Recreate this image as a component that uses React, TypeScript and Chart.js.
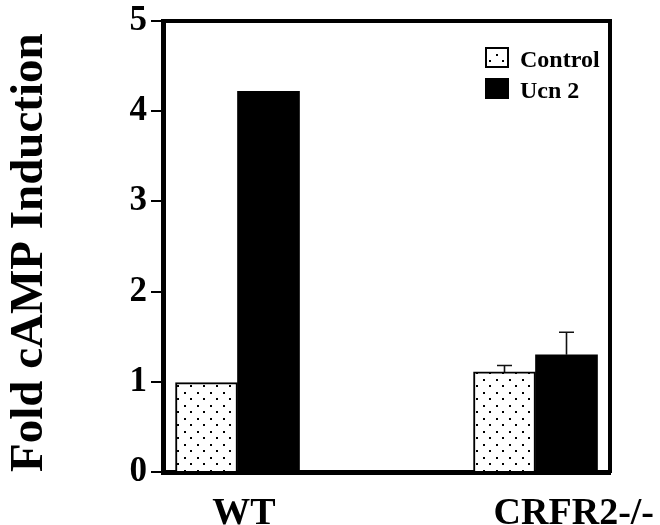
import React, { useEffect, useRef } from "react";
import { Chart, registerables } from "chart.js";

Chart.register(...registerables);

// ---- data ----
const categories = ["WT", "CRFR2-/-"];
const seriesNames = ["Control", "Ucn 2"];
const controlValues = [0.99, 1.11];
const ucn2Values = [4.22, 1.3];
const controlErrors = [0, 0.07];
const ucn2Errors = [0, 0.25];
const yTickValues = [0, 1, 2, 3, 4, 5];
const yAxisTitle = "Fold cAMP Induction";

const SERIF = "'Liberation Serif', 'Times New Roman', serif";

// category slots: WT, (gap), CRFR2-/-
const slotLabels = [categories[0], "", categories[1]];
const toSlots = (arr: number[]) => [arr[0], null, arr[1]];

function makeDotPattern(): CanvasPattern | string {
  const c = document.createElement("canvas");
  c.width = 13;
  c.height = 13;
  const g = c.getContext("2d");
  if (!g) return "#fff";
  g.fillStyle = "#fff";
  g.fillRect(0, 0, 13, 13);
  g.fillStyle = "#000";
  g.fillRect(2, 2, 2, 2);
  g.fillRect(8, 8, 2, 2);
  const p = g.createPattern(c, "repeat");
  return p || "#fff";
}

const errorBarPlugin = {
  id: "errorBars",
  afterDatasetsDraw(chart: any) {
    const ctx = chart.ctx;
    const yScale = chart.scales.y;
    chart.data.datasets.forEach((ds: any, di: number) => {
      const errs = ds.errors;
      if (!errs) return;
      const meta = chart.getDatasetMeta(di);
      meta.data.forEach((bar: any, i: number) => {
        const v = ds.data[i];
        const e = errs[i];
        if (v == null || !e) return;
        const top = yScale.getPixelForValue(v + e);
        const x = bar.x;
        ctx.save();
        ctx.strokeStyle = "#111";
        ctx.lineWidth = 1.6;
        ctx.beginPath();
        ctx.moveTo(x, bar.y);
        ctx.lineTo(x, top);
        ctx.moveTo(x - 7.5, top);
        ctx.lineTo(x + 7.5, top);
        ctx.stroke();
        ctx.restore();
      });
    });
  },
};

const boxLegendPlugin = {
  id: "boxLegend",
  afterDraw(chart: any) {
    const { ctx, chartArea } = chart;
    const x0 = chartArea.right - 125;
    chart.data.datasets.forEach((ds: any, i: number) => {
      const y = chartArea.top + 26 + i * 31;
      ctx.save();
      ctx.fillStyle = ds.backgroundColor;
      ctx.fillRect(x0, y, 24, 21);
      ctx.strokeStyle = "#000";
      ctx.lineWidth = 2;
      ctx.strokeRect(x0 + 1, y + 1, 22, 19);
      ctx.fillStyle = "#000";
      ctx.font = `bold 24px ${SERIF}`;
      ctx.textBaseline = "alphabetic";
      ctx.textAlign = "left";
      ctx.fillText(ds.label, x0 + 35, y + 20);
      ctx.restore();
    });
  },
};

export default function App() {
  const canvasRef = useRef<HTMLCanvasElement | null>(null);

  useEffect(() => {
    const canvas = canvasRef.current;
    if (!canvas) return;
    const dots = makeDotPattern();
    const xLabelPositions = [0.181, 0.919];

    const chart = new Chart(canvas, {
      type: "bar",
      data: {
        labels: slotLabels,
        datasets: [
          {
            label: seriesNames[0],
            data: toSlots(controlValues),
            errors: toSlots(controlErrors),
            backgroundColor: dots,
            borderColor: "#000",
            borderWidth: 2,
            barThickness: 62,
          } as any,
          {
            label: seriesNames[1],
            data: toSlots(ucn2Values),
            errors: toSlots(ucn2Errors),
            backgroundColor: "#000",
            borderColor: "#000",
            borderWidth: 0,
            barThickness: 62,
          } as any,
        ],
      },
      options: {
        animation: false,
        responsive: false,
        layout: { padding: { left: 0, top: 21, right: 50, bottom: 0 } },
        plugins: {
          legend: { display: false },
          tooltip: { enabled: false },
        },
        scales: {
          x: {
            type: "category",
            position: "bottom",
            weight: 0,
            grid: { display: false, drawTicks: false },
            border: { display: true, color: "#000", width: 5 },
            ticks: { display: false },
            afterFit: (s: any) => {
              s.height = 0;
              s.paddingLeft = 0;
              s.paddingRight = 0;
            },
          },
          xl: {
            type: "linear",
            position: "bottom",
            weight: 1,
            offset: false,
            min: 0,
            max: 1,
            grid: { display: false, drawTicks: false, offset: false },
            border: { display: false },
            afterBuildTicks: (s: any) => {
              s.ticks = xLabelPositions.map((v) => ({ value: v }));
            },
            afterFit: (s: any) => {
              s.height = 53;
              s.paddingLeft = 0;
              s.paddingRight = 0;
            },
            ticks: {
              autoSkip: false,
              maxRotation: 0,
              minRotation: 0,
              padding: 19,
              color: "#000",
              font: { family: SERIF, size: 38, weight: "bold" },
              callback: (_v: any, i: number) => categories[i],
            },
          },
          x2: {
            type: "linear",
            position: "top",
            offset: false,
            min: 0,
            max: 1,
            grid: { display: false, drawTicks: false },
            border: { display: true, color: "#000", width: 4 },
            ticks: { display: false },
            afterFit: (s: any) => {
              s.height = 0;
              s.paddingLeft = 0;
              s.paddingRight = 0;
            },
          },
          y: {
            type: "linear",
            position: "left",
            min: 0,
            max: 5,
            afterBuildTicks: (s: any) => {
              s.ticks = yTickValues.map((v) => ({ value: v }));
            },
            afterFit: (s: any) => {
              s.width = 163;
              s.paddingTop = 0;
              s.paddingBottom = 0;
            },
            grid: {
              display: true,
              drawOnChartArea: false,
              drawTicks: true,
              tickLength: 12,
              lineWidth: 2,
              color: "#000",
            },
            border: { display: true, color: "#000", width: 5 },
            ticks: {
              padding: 4,
              color: "#000",
              font: { family: SERIF, size: 35, weight: "bold" },
            },
            title: {
              display: true,
              text: yAxisTitle,
              align: "start",
              color: "#000",
              padding: { top: 2, bottom: 0 },
              font: { family: SERIF, size: 47, weight: "bold" },
            },
          },
          y2: {
            type: "linear",
            position: "right",
            min: 0,
            max: 5,
            grid: { display: false, drawTicks: false },
            border: { display: true, color: "#000", width: 4 },
            ticks: { display: false },
            afterFit: (s: any) => {
              s.width = 0;
              s.paddingTop = 0;
              s.paddingBottom = 0;
            },
          },
        },
      } as any,
      plugins: [errorBarPlugin, boxLegendPlugin],
    });

    return () => {
      chart.destroy();
    };
  }, []);

  return (
    <div style={{ position: "absolute", left: 0, top: 0, width: 660, height: 525, background: "#fff" }}>
      <canvas ref={canvasRef} width={660} height={525} style={{ display: "block" }} />
    </div>
  );
}
